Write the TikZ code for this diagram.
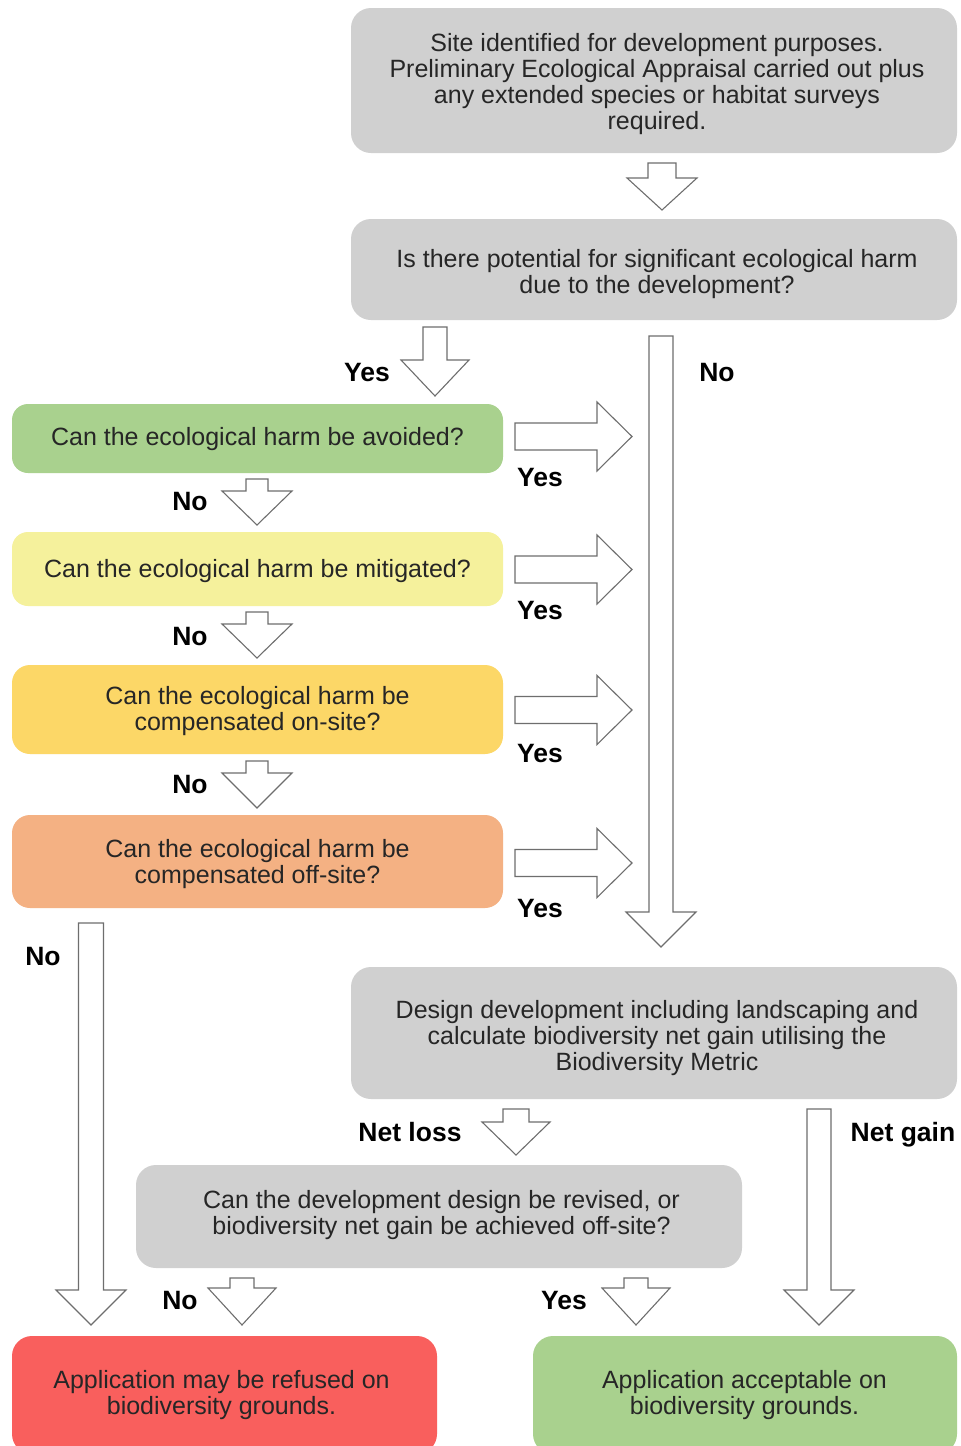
\documentclass[tikz,border=0pt]{standalone}
\usepackage{fontspec}
\setmainfont{Liberation Sans}
\definecolor{boxgray}{HTML}{D0D0D0}
\definecolor{boxgreen}{HTML}{A9D18E}
\definecolor{boxyellow}{HTML}{F5F19C}
\definecolor{boxgold}{HTML}{FCD767}
\definecolor{boxsalmon}{HTML}{F4B183}
\definecolor{boxred}{HTML}{F95F5D}
\definecolor{arrowline}{HTML}{6E6E6E}
\newcommand\bdown[6]{%
  \draw[blockarrow] (#1-#3,#2) -- (#1+#3,#2) -- (#1+#3,#4) -- (#1+#5,#4) -- (#1,#6) -- (#1-#5,#4) -- (#1-#3,#4) -- cycle;}
\newcommand\bright[6]{%
  \draw[blockarrow] (#2,#1-#3) -- (#2,#1+#3) -- (#4,#1+#3) -- (#4,#1+#5) -- (#6,#1) -- (#4,#1-#5) -- (#4,#1-#3) -- cycle;}
\begin{document}
\begin{tikzpicture}[x=1pt,y=-1pt,
  flowbox/.style={draw=none, rounded corners=20pt, inner sep=0pt},
  flowtext/.style={align=center, inner sep=0pt,
    font=\fontsize{25}{26}\selectfont, text=black!85},
  blockarrow/.style={draw=arrowline, fill=white, line width=1.1pt, line join=miter},
  lbl/.style={font=\fontsize{26.5}{28}\selectfont\bfseries, inner sep=0pt, text=black, anchor=base}]
\clip (0,0) rectangle (961,1446);
\fill[white] (0,0) rectangle (961,1446);

% boxes
\node[flowbox, fill=boxgray, minimum width=606pt, minimum height=145pt] (site) at (654,80.5) {};
\node[flowbox, fill=boxgray, minimum width=606pt, minimum height=101pt] (harm) at (654,269.5) {};
\node[flowbox, fill=boxgreen, rounded corners=16pt, minimum width=491pt, minimum height=69pt] (avoid) at (257.5,438.5) {};
\node[flowbox, fill=boxyellow, rounded corners=16pt, minimum width=491pt, minimum height=74pt] (mitig) at (257.5,569) {};
\node[flowbox, fill=boxgold, rounded corners=18pt, minimum width=491pt, minimum height=89pt] (onsite) at (257.5,709.5) {};
\node[flowbox, fill=boxsalmon, rounded corners=18pt, minimum width=491pt, minimum height=93pt] (offsite) at (257.5,861.5) {};
\node[flowbox, fill=boxgray, minimum width=606pt, minimum height=132pt] (design) at (654,1033) {};
\node[flowbox, fill=boxgray, minimum width=606pt, minimum height=103pt] (revise) at (439,1216.5) {};
\node[flowbox, fill=boxred, minimum width=425pt, minimum height=118pt] (refuse) at (224.5,1395) {};
\node[flowbox, fill=boxgreen, minimum width=424pt, minimum height=118pt] (accept) at (745,1395) {};

% box texts
\node[flowtext] (site-t) at (657,84.5)
  {Site identified for development purposes.\\Preliminary Ecological Appraisal carried out plus\\any extended species or habitat surveys\\required.};
\node[flowtext] (harm-t) at (657,274.5)
  {Is there potential for significant ecological harm\\due to the development?};
\node[flowtext] (avoid-t) at (257.5,439.5) {Can the ecological harm be avoided?};
\node[flowtext] (mitig-t) at (257.5,571) {Can the ecological harm be mitigated?};
\node[flowtext] (onsite-t) at (257.5,711.5) {Can the ecological harm be\\compensated on-site?};
\node[flowtext] (offsite-t) at (257.5,864.5) {Can the ecological harm be\\compensated off-site?};
\node[flowtext] (design-t) at (657,1038)
  {Design development including landscaping and\\calculate biodiversity net gain utilising the\\Biodiversity Metric};
\node[flowtext] (revise-t) at (441.5,1215.5)
  {Can the development design be revised, or\\biodiversity net gain be achieved off-site?};
\node[flowtext] (refuse-t) at (221.5,1395) {Application may be refused on\\biodiversity grounds.};
\node[flowtext] (accept-t) at (744.5,1395) {Application acceptable on\\biodiversity grounds.};

% block arrows
\bdown{662}{163}{14}{178}{35}{210}
\bdown{435}{327}{12}{360}{34}{396}
\bdown{661}{336}{12}{912}{35}{947}
\bright{436.5}{515}{13.5}{597}{34.5}{632}
\bright{569.5}{515}{13.5}{597}{34.5}{632}
\bright{710}{515}{13.5}{597}{34.5}{632}
\bright{863}{515}{13.5}{597}{34.5}{632}
\bdown{257}{479}{11}{491}{35}{525}
\bdown{257}{612}{11}{624}{35}{658}
\bdown{257}{761}{11}{773}{35}{808}
\bdown{91}{923}{12.5}{1290}{35}{1325}
\bdown{516}{1109}{13}{1122}{34}{1155}
\bdown{819}{1109}{12}{1290}{35}{1325}
\bdown{242}{1278}{12}{1288}{34}{1325}
\bdown{636}{1278}{12}{1288}{34}{1325}

% labels (baseline = visual centre + 9.5)
\node[lbl] (l1) at (367,381.5) {Yes};
\node[lbl] (l2) at (717,381.5) {No};
\node[lbl] (l3) at (540,486.5) {Yes};
\node[lbl] (l4) at (190,510.5) {No};
\node[lbl] (l5) at (540,619.5) {Yes};
\node[lbl] (l6) at (190,645.5) {No};
\node[lbl] (l7) at (540,762.5) {Yes};
\node[lbl] (l8) at (190,793.5) {No};
\node[lbl] (l9) at (540,917.5) {Yes};
\node[lbl] (l10) at (43,965.5) {No};
\node[lbl] (l11) at (410,1141.5) {Net loss};
\node[lbl] (l12) at (903,1141.5) {Net gain};
\node[lbl] (l13) at (180,1309.5) {No};
\node[lbl] (l14) at (564,1309.5) {Yes};
\end{tikzpicture}
\end{document}
